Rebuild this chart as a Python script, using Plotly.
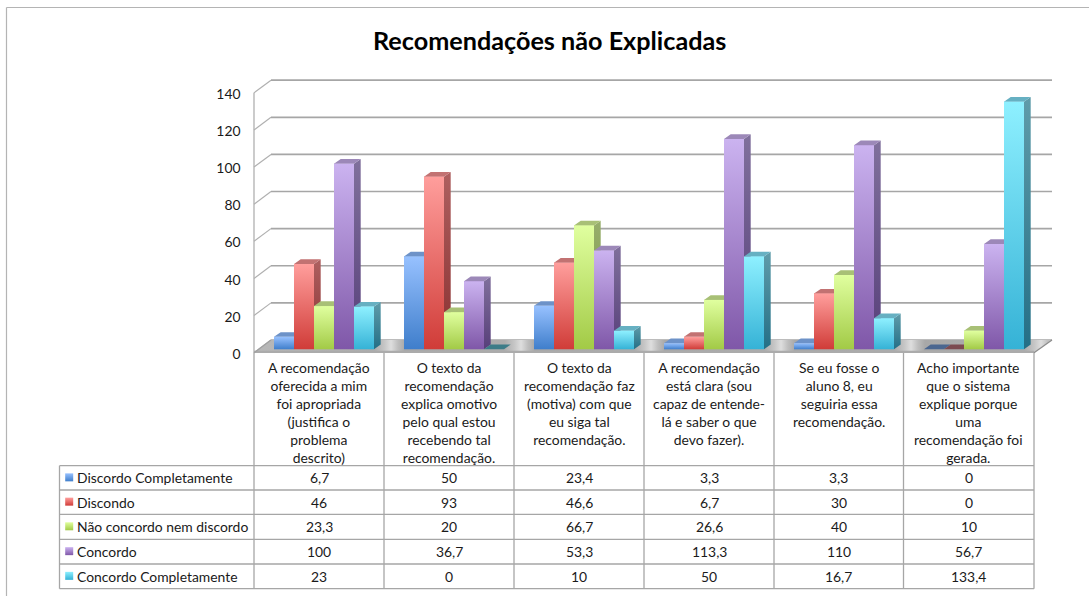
import plotly.graph_objects as go

categories = [
    "A recomendação<br>oferecida a mim<br>foi apropriada<br>(justifica o<br>problema<br>descrito)",
    "O texto da<br>recomendação<br>explica omotivo<br>pelo qual estou<br>recebendo tal<br>recomendação.",
    "O texto da<br>recomendação faz<br>(motiva) com que<br>eu siga tal<br>recomendação.",
    "A recomendação<br>está clara (sou<br>capaz de entende-<br>lá e saber o que<br>devo fazer).",
    "Se eu fosse o<br>aluno 8, eu<br>seguiria essa<br>recomendação.",
    "Acho importante<br>que o sistema<br>explique porque<br>uma<br>recomendação foi<br>gerada.",
]
discordo_completamente = [6.7, 50, 23.4, 3.3, 3.3, 0]
discordo = [46, 93, 46.6, 6.7, 30, 0]
nao_concordo = [23.3, 20, 66.7, 26.6, 40, 10]
concordo = [100, 36.7, 53.3, 113.3, 110, 56.7]
concordo_completamente = [23, 0, 10, 50, 16.7, 133.4]
series_names = ["Discordo Completamente", "Discondo", "Não concordo nem discordo",
                "Concordo", "Concordo Completamente"]
series_values = [discordo_completamente, discordo, nao_concordo, concordo, concordo_completamente]
y_ticks = [0, 20, 40, 60, 80, 100, 120, 140]
title = "Recomendações não Explicadas"

# styles: front top, front bottom, side top, side bottom, top face, zero-height top face
styles = [
    ("#97C1FF", "#3F7ECB", "#5F86BA", "#2F5E9C", "#6D92C8", "#4A6690"),
    ("#FF9E9C", "#D03C38", "#AE6060", "#8A3030", "#C27272", "#7C4A50"),
    ("#E0FF9F", "#A2CA46", "#97AE6C", "#74913A", "#A8C076", "#6E8A40"),
    ("#CBB3F0", "#7F57A8", "#80709C", "#573F7A", "#9C88B8", "#5F4A80"),
    ("#8EF0FF", "#35B2D6", "#5F9CAA", "#246F86", "#66B0C2", "#3C7C88"),
]

W, H = 1089, 596
PX_PER_CAT = 130.0
PX_PER_VAL = 1.856
X0_PX, V0_PX = 324.0, 349.3


def xu(px):
    return (px - X0_PX) / PX_PER_CAT


def vu(py):
    return (V0_PX - py) / PX_PER_VAL


GRID = "#A6A6A6"
TEXT = "#1A1A1A"
FONT = "Lato"
FS = 13.9
bar_w = 20 / PX_PER_CAT
depth_x = 6.7 / PX_PER_CAT
depth_v = 4.7 / PX_PER_VAL

fig = go.Figure()
shapes = []


def line(x0, y0, x1, y1, width=1.4, color=GRID, layer="below"):
    shapes.append(dict(type="line", xref="x", yref="y", x0=xu(x0), y0=vu(y0), x1=xu(x1), y1=vu(y1),
                       line=dict(color=color, width=width), layer=layer))


# frame
line(6.5, 7.5, 1089, 7.5, 1.2, "#B4B4B4")
line(6.5, 7.5, 6.5, 596, 1.2, "#B4B4B4")

# back wall gridlines
front_base, back_base = 352.7, 340.0
for t in y_ticks:
    dy = t * PX_PER_VAL
    line(254, front_base - dy, 271, back_base - dy, 1.2, "#B0B0B0")
    line(271, back_base - dy, 1052, back_base - dy, 1.7)
line(254, front_base, 254, front_base - 140 * PX_PER_VAL, 1.3, "#B0B0B0")

# floor
stops = [[0, "#B8B8B8"]]
span = 1052 - 254
for k in range(6):
    c = 389 + 130 * k
    for off, col in ((-14, "#ADADAD"), (-4, "#C8C8C8"), (2, "#DEDEDE"), (9, "#BEBEBE"), (16, "#A8A8A8")):
        p = (c + off - 254) / span
        if 0 < p < 1:
            stops.append([p, col])
stops.append([1, "#C8C8C8"])
fig.add_trace(go.Scatter(
    x=[xu(254), xu(1034), xu(1052), xu(271), xu(254)],
    y=[vu(352.7), vu(352.7), vu(340), vu(340), vu(352.7)],
    mode="lines", line=dict(width=0), fill="toself",
    fillgradient=dict(type="horizontal", colorscale=stops),
    hoverinfo="skip", showlegend=False))

# native bars (solid), dressed below with gradient faces
for j, (name, vals) in enumerate(zip(series_names, series_values)):
    fig.add_trace(go.Bar(
        x=[k + (j - 2) * bar_w for k in range(6)], y=vals, width=bar_w, name=name,
        marker=dict(color=styles[j][1], line=dict(width=0)), showlegend=False, hoverinfo="skip"))


def face(xs, ys, c0, c1=None):
    kw = dict(fill="toself", mode="lines", line=dict(width=0), hoverinfo="skip", showlegend=False)
    if c1 is None:
        fig.add_trace(go.Scatter(x=xs, y=ys, fillcolor=c0, **kw))
    else:
        fig.add_trace(go.Scatter(x=xs, y=ys,
                                 fillgradient=dict(type="vertical", colorscale=[[0, c1], [1, c0]]), **kw))


for k in range(6):
    for j, vals in enumerate(series_values):
        v = vals[k]
        st = styles[j]
        l = k + (j - 2) * bar_w - bar_w / 2
        r = l + bar_w
        if v > 0:
            face([r, r + depth_x, r + depth_x, r, r], [0, depth_v, v + depth_v, v, 0], st[2], st[3])
        face([l, r, r + depth_x, l + depth_x, l], [v, v, v + depth_v, v + depth_v, v],
             st[4] if v > 0 else st[5])
        if v > 0:
            face([l, r, r, l, l], [0, 0, v, v, 0], st[0], st[1])

# floor front edge and right edge
line(254, 351.9, 1034, 351.9, 2.4, "#ABABAB", "above")
line(1034, 352.7, 1052, 340, 1.3, "#8C8C8C", "above")
line(254, 352.7, 271, 340, 1.3, "#A0A0A0", "above")

# data table rules
col_x = [254, 384, 514, 644, 774, 903.5, 1034]
row_y = [465.7, 490, 514.3, 539.3, 564, 588.7]
for x in col_x:
    line(x, 352.7, x, row_y[-1], 1.3)
line(59.5, row_y[0], 59.5, row_y[-1], 1.3)
for y in row_y:
    line(59.5, y, 1034, y, 1.3)

annotations = [dict(text=f"<b>{title}</b>", x=xu(549), y=vu(39.5), xref="x", yref="y", showarrow=False,
                    font=dict(family=FONT, size=25.2, color="#000000"))]
for k, cat in enumerate(categories):
    annotations.append(dict(text=cat, x=xu((col_x[k] + col_x[k + 1]) / 2), y=vu(356.7), xref="x", yref="y",
                            yanchor="top", showarrow=False, align="center",
                            font=dict(family=FONT, size=FS, color=TEXT)))
for j, (name, vals) in enumerate(zip(series_names, series_values)):
    yc = (row_y[j] + row_y[j + 1]) / 2
    annotations.append(dict(text=name, x=xu(74.5), y=vu(yc), xref="x", yref="y", xanchor="left",
                            showarrow=False, font=dict(family=FONT, size=FS, color=TEXT)))
    for k, v in enumerate(vals):
        annotations.append(dict(text=f"{v:g}".replace(".", ","), x=xu((col_x[k] + col_x[k + 1]) / 2), y=vu(yc),
                                xref="x", yref="y", showarrow=False,
                                font=dict(family=FONT, size=FS, color=TEXT)))
    fig.add_trace(go.Scatter(
        x=[xu(69.2)], y=[vu(yc - 0.5)], mode="markers", hoverinfo="skip", showlegend=False,
        marker=dict(symbol="square", size=8, color=styles[j][0], line=dict(width=0),
                    gradient=dict(type="vertical", color=styles[j][1]))))

shift = (353.9 - V0_PX) / PX_PER_VAL
fig.update_layout(
    width=W, height=H, autosize=False, margin=dict(l=0, r=0, t=0, b=0),
    paper_bgcolor="#FFFFFF", plot_bgcolor="#FFFFFF", barmode="overlay", showlegend=False,
    font=dict(family=FONT, size=FS, color=TEXT),
    xaxis=dict(range=[xu(0), xu(W)], visible=False, domain=[0, 1], fixedrange=True),
    yaxis=dict(range=[vu(H), vu(0)], visible=False, domain=[0, 1], fixedrange=True),
    yaxis2=dict(
        overlaying="y", anchor="free", position=240.5 / W, side="left", fixedrange=True,
        range=[vu(H) + shift, vu(0) + shift],
        tickmode="array", tickvals=y_ticks, ticktext=[str(t) for t in y_ticks],
        showgrid=False, zeroline=False, showline=False, ticks="", ticklen=0,
        tickfont=dict(family=FONT, size=FS, color=TEXT)),
    shapes=shapes, annotations=annotations)
# invisible trace that keeps the tick-label axis alive
fig.add_trace(go.Scatter(x=[xu(254)] * len(y_ticks), y=y_ticks, yaxis="y2", mode="markers",
                         marker=dict(opacity=0, size=1), hoverinfo="skip", showlegend=False))

fig.write_html("out.html", config=dict(displayModeBar=False),
               post_script="document.body.style.margin='0';document.body.style.overflow='hidden';")
